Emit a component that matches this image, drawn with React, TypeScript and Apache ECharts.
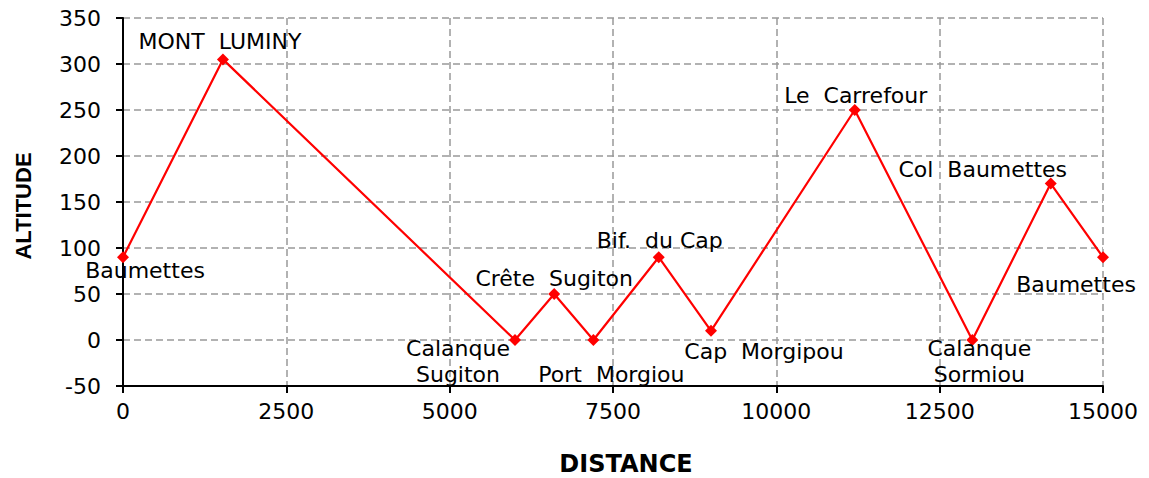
import React, { useEffect, useRef } from "react";
import * as echarts from "echarts";

const distances = [0, 1530, 6000, 6600, 7200, 8200, 9000, 11200, 13000, 14200, 15000];
const altitudes = [90, 305, 0, 50, 0, 90, 10, 250, 0, 170, 90];
const placeNames = [
  "Baumettes",
  "MONT  LUMINY",
  "Calanque\nSugiton",
  "Crête  Sugiton",
  "Port  Morgiou",
  "Bif.  du Cap",
  "Cap  Morgipou",
  "Le  Carrefour",
  "Calanque\nSormiou",
  "Col  Baumettes",
  "Baumettes",
];
const labelOffsets: [number, number][] = [
  [22, 13],
  [-3, -18],
  [-57, 21],
  [0, -16],
  [18, 34],
  [1, -17],
  [53, 21],
  [1, -15],
  [7, 21],
  [-68, -14],
  [-27, 27],
];

const FONT = "'DejaVu Sans', sans-serif";

export default function App() {
  const ref = useRef<HTMLDivElement>(null);
  useEffect(() => {
    if (!ref.current) return;
    const chart = echarts.init(ref.current, null, { renderer: "svg" });
    const data = distances.map((d, i) => ({
      value: [d, altitudes[i]],
      label: {
        show: true,
        formatter: placeNames[i],
        position: "inside",
        offset: labelOffsets[i],
        align: "center",
        verticalAlign: "middle",
        color: "#000",
        fontSize: 22,
        fontFamily: FONT,
        lineHeight: placeNames[i].includes("\n") ? 26 : 20,
      },
    }));
    chart.setOption({
      animation: false,
      backgroundColor: "#fff",
      grid: { left: 123, right: 46, top: 18, bottom: 92, containLabel: false },
      xAxis: {
        type: "value",
        min: 0,
        max: 15000,
        interval: 2500,
        axisLine: { show: true, onZero: false, lineStyle: { color: "#000", width: 2 } },
        axisTick: { show: true, length: 7, lineStyle: { color: "#000", width: 2 } },
        axisLabel: {
          color: "#000",
          fontSize: 22,
          fontFamily: FONT,
          margin: 14,
          formatter: (v: number) => String(v),
        },
        splitLine: { show: true, lineStyle: { color: "#999", type: [7, 4], width: 1.5 } },
      },
      yAxis: {
        type: "value",
        min: -50,
        max: 350,
        interval: 50,
        axisLine: { show: true, onZero: false, lineStyle: { color: "#000", width: 2 } },
        axisTick: { show: true, length: 7, lineStyle: { color: "#000", width: 2 } },
        axisLabel: {
          color: "#000",
          fontSize: 22,
          fontFamily: FONT,
          margin: 22,
          lineHeight: 20,
          formatter: (v: number) => String(v),
        },
        splitLine: { show: true, lineStyle: { color: "#999", type: [7, 4], width: 1.5 } },
      },
      graphic: [
        {
          type: "text",
          rotation: Math.PI / 2,
          x: 23,
          y: 206,
          style: {
            text: "ALTITUDE",
            fontSize: 22,
            fontWeight: "bold",
            fontFamily: "'Liberation Sans', Arial, sans-serif",
            fill: "#000",
            align: "center",
            verticalAlign: "middle",
          },
        },
        {
          type: "text",
          x: 626,
          y: 464,
          style: {
            text: "DISTANCE",
            fontSize: 24,
            fontWeight: "bold",
            fontFamily: FONT,
            fill: "#000",
            align: "center",
            verticalAlign: "middle",
          },
        },
      ],
      series: [
        {
          type: "line",
          data,
          symbol: "diamond",
          symbolSize: 12,
          itemStyle: { color: "#ff0000" },
          lineStyle: { color: "#ff0000", width: 2.2 },
        },
      ],
    });
    return () => chart.dispose();
  }, []);
  return (
    <div
      ref={ref}
      style={{ position: "fixed", left: 0, top: 0, width: 1149, height: 478 }}
    />
  );
}
